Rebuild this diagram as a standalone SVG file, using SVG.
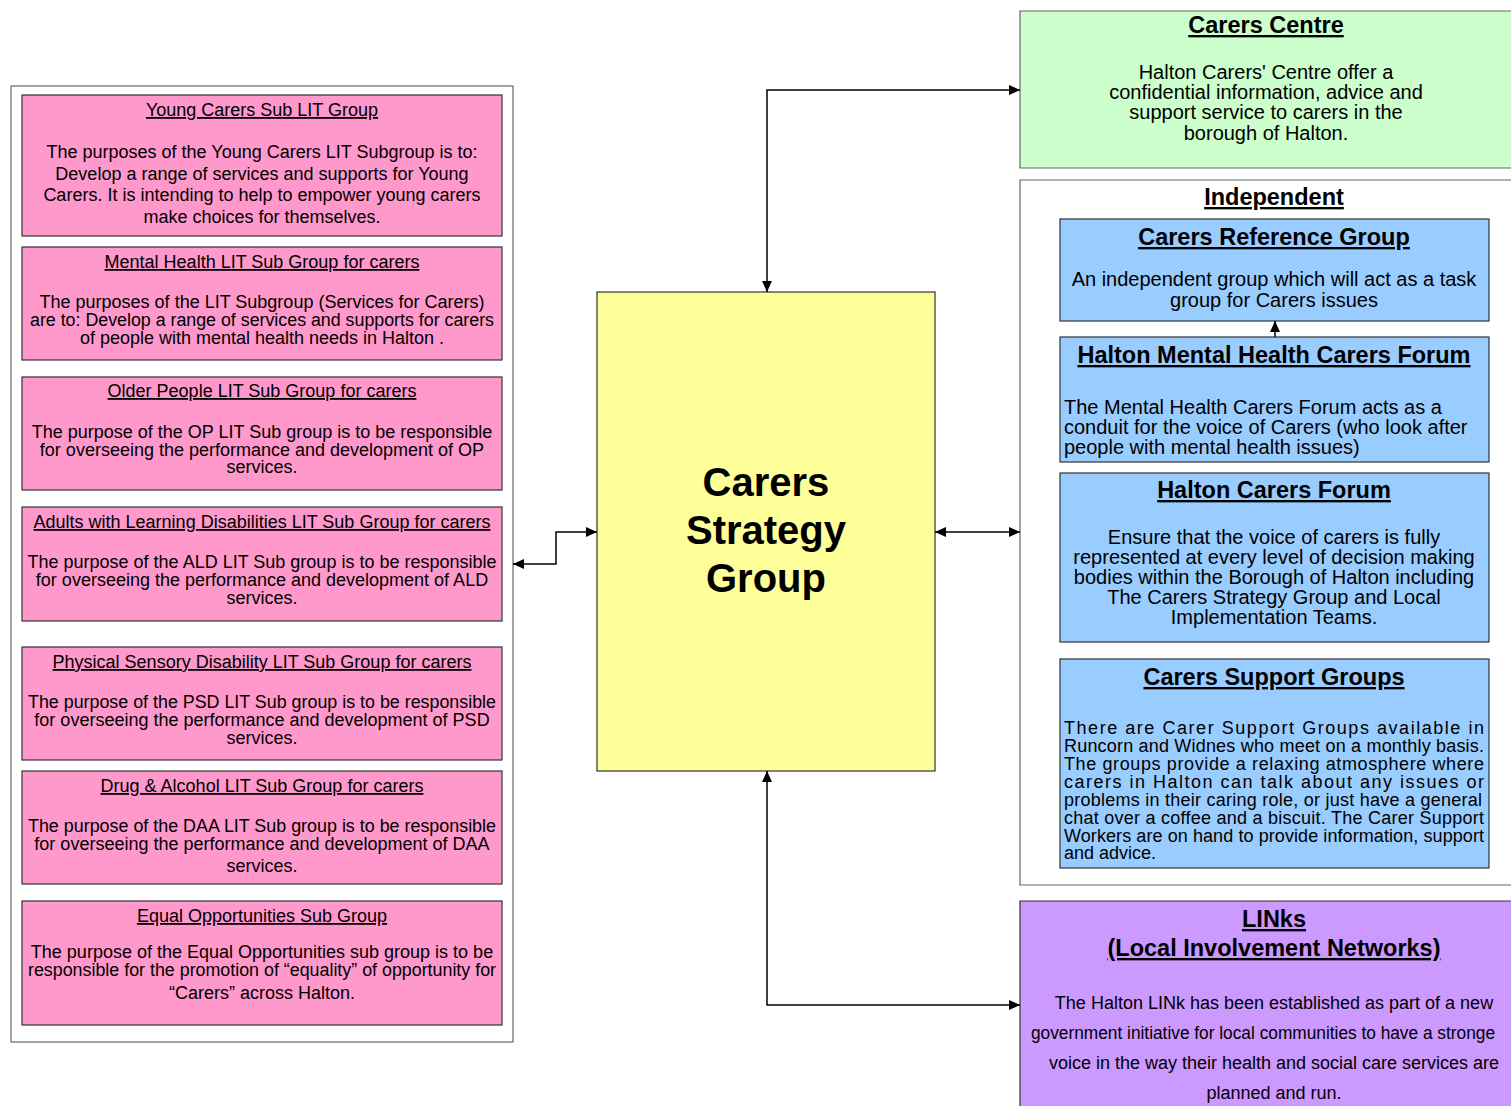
<svg xmlns="http://www.w3.org/2000/svg" width="1511" height="1106" viewBox="0 0 1511 1106">
<style>
text{font-family:"Liberation Sans",Arial,sans-serif;fill:#000}
.t{font-size:18px;text-anchor:middle;text-decoration:underline}
.b{font-size:18px;text-anchor:middle}
.h{font-size:23.5px;font-weight:bold;text-anchor:middle;text-decoration:underline}
.r{font-size:20px;text-anchor:middle}
.rl{font-size:20px}
.j{font-size:18px}
.pink{fill:#ff99cc;stroke:#333;stroke-width:1.2}
.blue{fill:#99ccff;stroke:#333;stroke-width:1.2}
.cont{fill:#fff;stroke:#666;stroke-width:1.2}
.edge{fill:none;stroke:#666;stroke-width:1.2}
.conn path{fill:none;stroke:#000;stroke-width:1.5}
</style>
<defs>
<marker id="ah" markerUnits="userSpaceOnUse" markerWidth="12" markerHeight="10" refX="11" refY="5" orient="auto-start-reverse">
<path d="M0,0 L11,5 L0,10 z" fill="#000"/>
</marker>
</defs>
<rect width="1511" height="1106" fill="#fff"/>

<g id="lit-container"><rect class="cont" x="11" y="86" width="502" height="956"/></g>

<g id="young-carers">
<rect class="pink" x="22" y="95" width="480" height="141"/>
<text class="t" x="262" y="116">Young Carers Sub LIT Group</text>
<text class="b" x="262" y="158">The purposes of the Young Carers LIT Subgroup is to:</text>
<text class="b" x="262" y="180">Develop a range of services and supports for Young</text>
<text class="b" x="262" y="201">Carers. It is intending to help to empower young carers</text>
<text class="b" x="262" y="223">make choices for themselves.</text>
</g>
<g id="mental-health-lit">
<rect class="pink" x="22" y="247" width="480" height="113"/>
<text class="t" x="262" y="268">Mental Health LIT Sub Group for carers</text>
<text class="b" x="262" y="308">The purposes of the LIT Subgroup (Services for Carers)</text>
<text class="b" x="262" y="326" textLength="464" lengthAdjust="spacingAndGlyphs">are to: Develop a range of services and supports for carers</text>
<text class="b" x="262" y="344">of people with mental health needs in Halton .</text>
</g>
<g id="older-people-lit">
<rect class="pink" x="22" y="377" width="480" height="113"/>
<text class="t" x="262" y="397">Older People LIT Sub Group for carers</text>
<text class="b" x="262" y="438">The purpose of the OP LIT Sub group is to be responsible</text>
<text class="b" x="262" y="456">for overseeing the performance and development of OP</text>
<text class="b" x="262" y="473">services.</text>
</g>
<g id="ald-lit">
<rect class="pink" x="22" y="507" width="480" height="114"/>
<text class="t" x="262" y="528">Adults with Learning Disabilities LIT Sub Group for carers</text>
<text class="b" x="262" y="568">The purpose of the ALD LIT Sub group is to be responsible</text>
<text class="b" x="262" y="586">for overseeing the performance and development of ALD</text>
<text class="b" x="262" y="604">services.</text>
</g>
<g id="psd-lit">
<rect class="pink" x="22" y="647" width="480" height="113"/>
<text class="t" x="262" y="668">Physical Sensory Disability LIT Sub Group for carers</text>
<text class="b" x="262" y="708" textLength="468" lengthAdjust="spacingAndGlyphs">The purpose of the PSD LIT Sub group is to be responsible</text>
<text class="b" x="262" y="726">for overseeing the performance and development of PSD</text>
<text class="b" x="262" y="744">services.</text>
</g>
<g id="daa-lit">
<rect class="pink" x="22" y="771" width="480" height="113"/>
<text class="t" x="262" y="792">Drug &amp; Alcohol LIT Sub Group for carers</text>
<text class="b" x="262" y="832" textLength="468" lengthAdjust="spacingAndGlyphs">The purpose of the DAA LIT Sub group is to be responsible</text>
<text class="b" x="262" y="850">for overseeing the performance and development of DAA</text>
<text class="b" x="262" y="872">services.</text>
</g>
<g id="equal-opps">
<rect class="pink" x="22" y="901" width="480" height="124"/>
<text class="t" x="262" y="922">Equal Opportunities Sub Group</text>
<text class="b" x="262" y="958">The purpose of the Equal Opportunities sub group is to be</text>
<text class="b" x="262" y="976" textLength="468" lengthAdjust="spacingAndGlyphs">responsible for the promotion of “equality” of opportunity for</text>
<text class="b" x="262" y="999">“Carers” across Halton.</text>
</g>

<g id="strategy-group">
<rect x="597" y="292" width="338" height="479" fill="#ffff99" stroke="#333" stroke-width="1.2"/>
<text x="766" y="496" font-size="40" font-weight="bold" text-anchor="middle">Carers</text>
<text x="766" y="544" font-size="40" font-weight="bold" text-anchor="middle">Strategy</text>
<text x="766" y="592" font-size="40" font-weight="bold" text-anchor="middle">Group</text>
</g>

<g id="carers-centre">
<rect x="1020" y="11" width="491" height="157" fill="#ccffcc"/>
<path class="edge" d="M1511,11 H1020 V168 H1511"/>
<text class="h" x="1266" y="33">Carers Centre</text>
<text class="r" x="1266" y="79">Halton Carers' Centre offer a</text>
<text class="r" x="1266" y="99">confidential information, advice and</text>
<text class="r" x="1266" y="119">support service to carers in the</text>
<text class="r" x="1266" y="140">borough of Halton.</text>
</g>

<g id="independent">
<rect x="1020" y="180" width="491" height="705" fill="#fff"/>
<path class="edge" d="M1511,180 H1020 V885 H1511"/>
<text class="h" x="1274" y="205">Independent</text>
</g>

<g id="carers-reference-group">
<rect class="blue" x="1060" y="219" width="429" height="102"/>
<text class="h" x="1274" y="245">Carers Reference Group</text>
<text class="r" x="1274" y="286">An independent group which will act as a task</text>
<text class="r" x="1274" y="307">group for Carers issues</text>
</g>

<g id="mh-carers-forum">
<rect class="blue" x="1060" y="337" width="429" height="125"/>
<text class="h" x="1274" y="363">Halton Mental Health Carers Forum</text>
<text class="rl" x="1064" y="414">The Mental Health Carers Forum acts as a</text>
<text class="rl" x="1064" y="434">conduit for the voice of Carers (who look after</text>
<text class="rl" x="1064" y="454">people with mental health issues)</text>
</g>

<g id="halton-carers-forum">
<rect class="blue" x="1060" y="473" width="429" height="169"/>
<text class="h" x="1274" y="498">Halton Carers Forum</text>
<text class="r" x="1274" y="544">Ensure that the voice of carers is fully</text>
<text class="r" x="1274" y="564">represented at every level of decision making</text>
<text class="r" x="1274" y="584">bodies within the Borough of Halton including</text>
<text class="r" x="1274" y="604">The Carers Strategy Group and Local</text>
<text class="r" x="1274" y="624">Implementation Teams.</text>
</g>

<g id="carers-support-groups">
<rect class="blue" x="1060" y="659" width="429" height="209"/>
<text class="h" x="1274" y="685">Carers Support Groups</text>
<text class="j" x="1064" y="734" textLength="420" lengthAdjust="spacing">There are Carer Support Groups available in</text>
<text class="j" x="1064" y="752" textLength="420" lengthAdjust="spacing">Runcorn and Widnes who meet on a monthly basis.</text>
<text class="j" x="1064" y="770" textLength="420" lengthAdjust="spacing">The groups provide a relaxing atmosphere where</text>
<text class="j" x="1064" y="788" textLength="420" lengthAdjust="spacing">carers in Halton can talk about any issues or</text>
<text class="j" x="1064" y="806" textLength="418" lengthAdjust="spacing">problems in their caring role, or just have a general</text>
<text class="j" x="1064" y="824" textLength="420" lengthAdjust="spacing">chat over a coffee and a biscuit. The Carer Support</text>
<text class="j" x="1064" y="842" textLength="420" lengthAdjust="spacing">Workers are on hand to provide information, support</text>
<text class="j" x="1064" y="859">and advice.</text>
</g>

<g id="links">
<rect x="1020" y="901" width="491" height="205" fill="#cc99ff"/>
<path class="edge" d="M1511,901 H1020 V1106" style="stroke:#333"/>
<text class="h" x="1274" y="927">LINks</text>
<text class="h" x="1274" y="956">(Local Involvement Networks)</text>
<text class="b" x="1274" y="1009">The Halton LINk has been established as part of a new</text>
<text x="1031" y="1039" font-size="17.5" textLength="464" lengthAdjust="spacingAndGlyphs">government initiative for local communities to have a stronge</text>
<text class="b" x="1274" y="1069">voice in the way their health and social care services are</text>
<text class="b" x="1274" y="1099">planned and run.</text>
</g>

<g class="conn" id="connectors">
<path d="M767,292 V90 H1020" marker-start="url(#ah)" marker-end="url(#ah)"/>
<path d="M935,532 H1020" marker-start="url(#ah)" marker-end="url(#ah)"/>
<path d="M597,532 H556 V564 H513" marker-start="url(#ah)" marker-end="url(#ah)"/>
<path d="M767,771 V1005 H1020" marker-start="url(#ah)" marker-end="url(#ah)"/>
<path d="M1275,337 V321" marker-end="url(#ah)"/>
</g>
</svg>
